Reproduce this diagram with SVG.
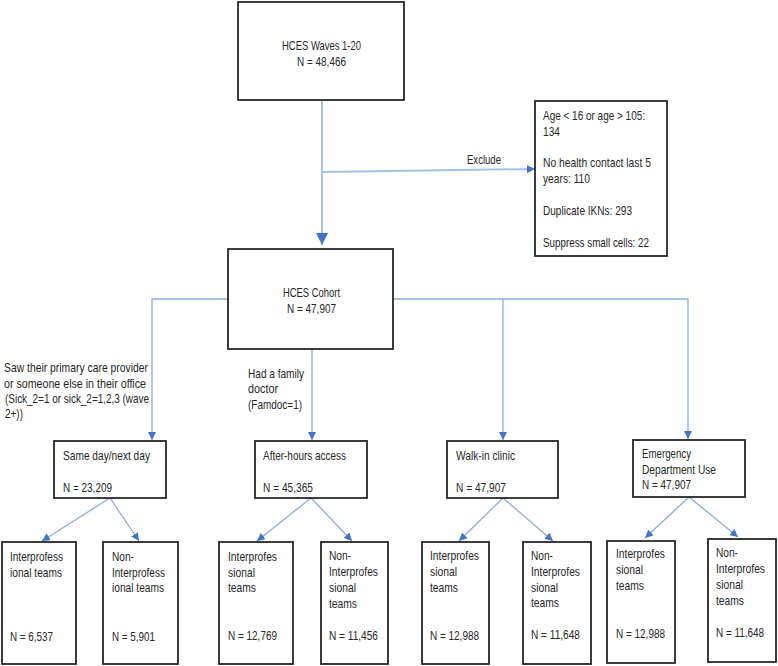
<svg xmlns="http://www.w3.org/2000/svg" width="778" height="666" viewBox="0 0 778 666">
<style>
.box{fill:#fff;stroke:#262626;stroke-width:1.8}
.t{font-family:"Liberation Sans",Arial,sans-serif;font-size:13px;fill:#262626}
.c{text-anchor:middle}
.ln{fill:none;stroke:#8FAADC;stroke-width:1.3}
.main{fill:none;stroke:#A9C1EA;stroke-width:2}
</style>
<defs>
<marker id="ah" viewBox="0 0 10 10" refX="10" refY="5" markerWidth="8" markerHeight="8" orient="auto" markerUnits="userSpaceOnUse"><path d="M0,0 L10,5 L0,10 z" fill="#4472C4"/></marker>
<marker id="ahb" viewBox="0 0 10 10" refX="10" refY="5" markerWidth="13" markerHeight="12" orient="auto" markerUnits="userSpaceOnUse"><path d="M0,0 L10,5 L0,10 z" fill="#4472C4"/></marker>
</defs>
<rect width="778" height="666" fill="#fff"/>
<g id="connectors">
<path class="main" d="M322,100 V245" marker-end="url(#ahb)"/>
<path class="main" d="M322,172 L535,169" marker-end="url(#ah)"/>
<path class="ln" d="M228,299 H152 V440" marker-end="url(#ah)"/>
<path class="ln" d="M393,299 H688 V439" marker-end="url(#ah)"/>
<path class="ln" d="M503,299 V440" marker-end="url(#ah)"/>
<path class="ln" d="M312,349 V440" marker-end="url(#ah)"/>
<path class="ln" d="M110,498 L42,541" marker-end="url(#ah)"/>
<path class="ln" d="M110,498 L139,541" marker-end="url(#ah)"/>
<path class="ln" d="M311,498 L257,541" marker-end="url(#ah)"/>
<path class="ln" d="M311,498 L352,541" marker-end="url(#ah)"/>
<path class="ln" d="M503,498 L459,541" marker-end="url(#ah)"/>
<path class="ln" d="M503,498 L553,541" marker-end="url(#ah)"/>
<path class="ln" d="M689,497 L645,538" marker-end="url(#ah)"/>
<path class="ln" d="M689,497 L738,537" marker-end="url(#ah)"/>
<text class="t" x="467" y="163.5" textLength="34" lengthAdjust="spacingAndGlyphs">Exclude</text>
<text class="t" x="4" y="371.5" textLength="144" lengthAdjust="spacingAndGlyphs">Saw their primary care provider</text>
<text class="t" x="4" y="387.5" textLength="142" lengthAdjust="spacingAndGlyphs">or someone else in their office</text>
<text class="t" x="5" y="402.5" textLength="144" lengthAdjust="spacingAndGlyphs">(Sick_2=1 or sick_2=1,2,3 (wave</text>
<text class="t" x="5" y="417.5" textLength="18" lengthAdjust="spacingAndGlyphs">2+))</text>
<text class="t" x="248" y="377.5" textLength="56" lengthAdjust="spacingAndGlyphs">Had a family</text>
<text class="t" x="248" y="392.5" textLength="30" lengthAdjust="spacingAndGlyphs">doctor</text>
<text class="t" x="248" y="408.5" textLength="54" lengthAdjust="spacingAndGlyphs">(Famdoc=1)</text>
</g>
<g id="waves">
<rect class="box" x="238" y="2" width="166" height="98"/>
<text class="t c" x="321.5" y="49.5" textLength="79" lengthAdjust="spacingAndGlyphs">HCES Waves 1-20</text>
<text class="t c" x="321.5" y="65.5" textLength="49" lengthAdjust="spacingAndGlyphs">N = 48,466</text>
</g>
<g id="exclusions">
<rect class="box" x="535" y="101" width="132" height="155"/>
<text class="t" x="543" y="119.5" textLength="102" lengthAdjust="spacingAndGlyphs">Age &lt; 16 or age &gt; 105:</text>
<text class="t" x="543" y="135.5" textLength="17" lengthAdjust="spacingAndGlyphs">134</text>
<text class="t" x="543" y="166.5" textLength="108" lengthAdjust="spacingAndGlyphs">No health contact last 5</text>
<text class="t" x="543" y="182.5" textLength="47" lengthAdjust="spacingAndGlyphs">years: 110</text>
<text class="t" x="543" y="214.5" textLength="89" lengthAdjust="spacingAndGlyphs">Duplicate IKNs: 293</text>
<text class="t" x="543" y="246.5" textLength="106" lengthAdjust="spacingAndGlyphs">Suppress small cells: 22</text>
</g>
<g id="cohort">
<rect class="box" x="228" y="249" width="165" height="100"/>
<text class="t c" x="311.5" y="296.5" textLength="57" lengthAdjust="spacingAndGlyphs">HCES Cohort</text>
<text class="t c" x="311.5" y="312.5" textLength="49" lengthAdjust="spacingAndGlyphs">N = 47,907</text>
</g>
<g id="sameday">
<rect class="box" x="54" y="441" width="112" height="57"/>
<text class="t" x="63" y="459.5" textLength="87" lengthAdjust="spacingAndGlyphs">Same day/next day</text>
<text class="t" x="63" y="491.5" textLength="49" lengthAdjust="spacingAndGlyphs">N = 23,209</text>
</g>
<g id="afterhours">
<rect class="box" x="255" y="441" width="112" height="57"/>
<text class="t" x="263" y="459.5" textLength="83" lengthAdjust="spacingAndGlyphs">After-hours access</text>
<text class="t" x="263" y="491.5" textLength="50" lengthAdjust="spacingAndGlyphs">N = 45,365</text>
</g>
<g id="walkin">
<rect class="box" x="447" y="441" width="111" height="57"/>
<text class="t" x="456" y="459.5" textLength="59" lengthAdjust="spacingAndGlyphs">Walk-in clinic</text>
<text class="t" x="456" y="491.5" textLength="50" lengthAdjust="spacingAndGlyphs">N = 47,907</text>
</g>
<g id="emergency">
<rect class="box" x="633" y="440" width="112" height="57"/>
<text class="t" x="642" y="457.5" textLength="49" lengthAdjust="spacingAndGlyphs">Emergency</text>
<text class="t" x="642" y="473.5" textLength="74" lengthAdjust="spacingAndGlyphs">Department Use</text>
<text class="t" x="642" y="488.5" textLength="49" lengthAdjust="spacingAndGlyphs">N = 47,907</text>
</g>
<g id="sd-ipt">
<rect class="box" x="2" y="542" width="74" height="122"/>
<text class="t" x="10" y="560.5" textLength="53" lengthAdjust="spacingAndGlyphs">Interprofess</text>
<text class="t" x="10" y="576.5" textLength="52" lengthAdjust="spacingAndGlyphs">ional teams</text>
<text class="t" x="10" y="641" textLength="43" lengthAdjust="spacingAndGlyphs">N = 6,537</text>
</g>
<g id="sd-nonipt">
<rect class="box" x="103" y="542" width="75" height="122"/>
<text class="t" x="112" y="560.5" textLength="22" lengthAdjust="spacingAndGlyphs">Non-</text>
<text class="t" x="112" y="576.5" textLength="53" lengthAdjust="spacingAndGlyphs">Interprofess</text>
<text class="t" x="112" y="592" textLength="52" lengthAdjust="spacingAndGlyphs">ional teams</text>
<text class="t" x="112" y="641" textLength="43" lengthAdjust="spacingAndGlyphs">N = 5,901</text>
</g>
<g id="ah-ipt">
<rect class="box" x="219" y="542" width="74" height="122"/>
<text class="t" x="228" y="560.5" textLength="49" lengthAdjust="spacingAndGlyphs">Interprofes</text>
<text class="t" x="228" y="576.5" textLength="27" lengthAdjust="spacingAndGlyphs">sional</text>
<text class="t" x="228" y="592" textLength="28" lengthAdjust="spacingAndGlyphs">teams</text>
<text class="t" x="228" y="640" textLength="49" lengthAdjust="spacingAndGlyphs">N = 12,769</text>
</g>
<g id="ah-nonipt">
<rect class="box" x="321" y="542" width="67" height="122"/>
<text class="t" x="329" y="560" textLength="22" lengthAdjust="spacingAndGlyphs">Non-</text>
<text class="t" x="329" y="576" textLength="49" lengthAdjust="spacingAndGlyphs">Interprofes</text>
<text class="t" x="329" y="591.5" textLength="27" lengthAdjust="spacingAndGlyphs">sional</text>
<text class="t" x="329" y="607.5" textLength="28" lengthAdjust="spacingAndGlyphs">teams</text>
<text class="t" x="329" y="640" textLength="49" lengthAdjust="spacingAndGlyphs">N = 11,456</text>
</g>
<g id="wi-ipt">
<rect class="box" x="422" y="542" width="67" height="122"/>
<text class="t" x="430" y="559.5" textLength="49" lengthAdjust="spacingAndGlyphs">Interprofes</text>
<text class="t" x="430" y="576" textLength="27" lengthAdjust="spacingAndGlyphs">sional</text>
<text class="t" x="430" y="591.5" textLength="28" lengthAdjust="spacingAndGlyphs">teams</text>
<text class="t" x="430" y="639.5" textLength="49" lengthAdjust="spacingAndGlyphs">N = 12,988</text>
</g>
<g id="wi-nonipt">
<rect class="box" x="523" y="542" width="68" height="122"/>
<text class="t" x="531" y="559.5" textLength="22" lengthAdjust="spacingAndGlyphs">Non-</text>
<text class="t" x="531" y="575.5" textLength="49" lengthAdjust="spacingAndGlyphs">Interprofes</text>
<text class="t" x="531" y="591.5" textLength="27" lengthAdjust="spacingAndGlyphs">sional</text>
<text class="t" x="531" y="606.5" textLength="28" lengthAdjust="spacingAndGlyphs">teams</text>
<text class="t" x="531" y="638.5" textLength="49" lengthAdjust="spacingAndGlyphs">N = 11,648</text>
</g>
<g id="ed-ipt">
<rect class="box" x="607" y="541" width="68" height="122"/>
<text class="t" x="616" y="557.5" textLength="49" lengthAdjust="spacingAndGlyphs">Interprofes</text>
<text class="t" x="616" y="573.5" textLength="27" lengthAdjust="spacingAndGlyphs">sional</text>
<text class="t" x="616" y="589.5" textLength="28" lengthAdjust="spacingAndGlyphs">teams</text>
<text class="t" x="616" y="637.5" textLength="49" lengthAdjust="spacingAndGlyphs">N = 12,988</text>
</g>
<g id="ed-nonipt">
<rect class="box" x="708" y="539" width="68" height="123"/>
<text class="t" x="716" y="556.5" textLength="22" lengthAdjust="spacingAndGlyphs">Non-</text>
<text class="t" x="716" y="572.5" textLength="49" lengthAdjust="spacingAndGlyphs">Interprofes</text>
<text class="t" x="716" y="588.5" textLength="27" lengthAdjust="spacingAndGlyphs">sional</text>
<text class="t" x="716" y="604.5" textLength="28" lengthAdjust="spacingAndGlyphs">teams</text>
<text class="t" x="716" y="636.5" textLength="48" lengthAdjust="spacingAndGlyphs">N = 11,648</text>
</g>
</svg>
